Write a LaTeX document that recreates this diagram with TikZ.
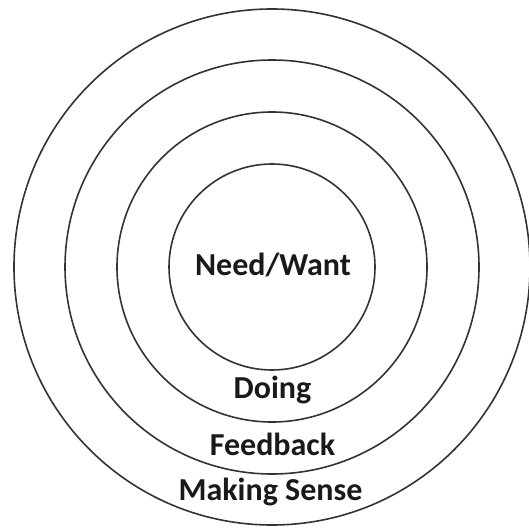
\documentclass[tikz,border=0pt]{standalone}
\usepackage{fontspec}
\setmainfont{Carlito}
\begin{document}
\begin{tikzpicture}[x=1pt,y=-1pt,
  ring/.style={draw=black!80, line width=1.6pt, circle, inner sep=0pt},
  lbl/.style={font=\bfseries\fontsize{32}{36}\selectfont, text=black!90, inner sep=0pt, anchor=base}]
\useasboundingbox (0,0) rectangle (529,529);
\coordinate (c) at (272,267);
\node[ring, minimum size=516pt] (outer) at (c) {};
\node[ring, minimum size=414pt] (second) at (c) {};
\node[ring, minimum size=310pt] (third) at (c) {};
\node[ring, minimum size=206pt] (inner) at (c) {};
\node[lbl] (need) at (273,275) {Need/Want};
\node[lbl] (doing) at (272.5,398) {Doing};
\node[lbl] (feedback) at (272.5,455) {Feedback};
\node[lbl] (sense) at (270.5,500) {Making Sense};
\end{tikzpicture}
\end{document}
